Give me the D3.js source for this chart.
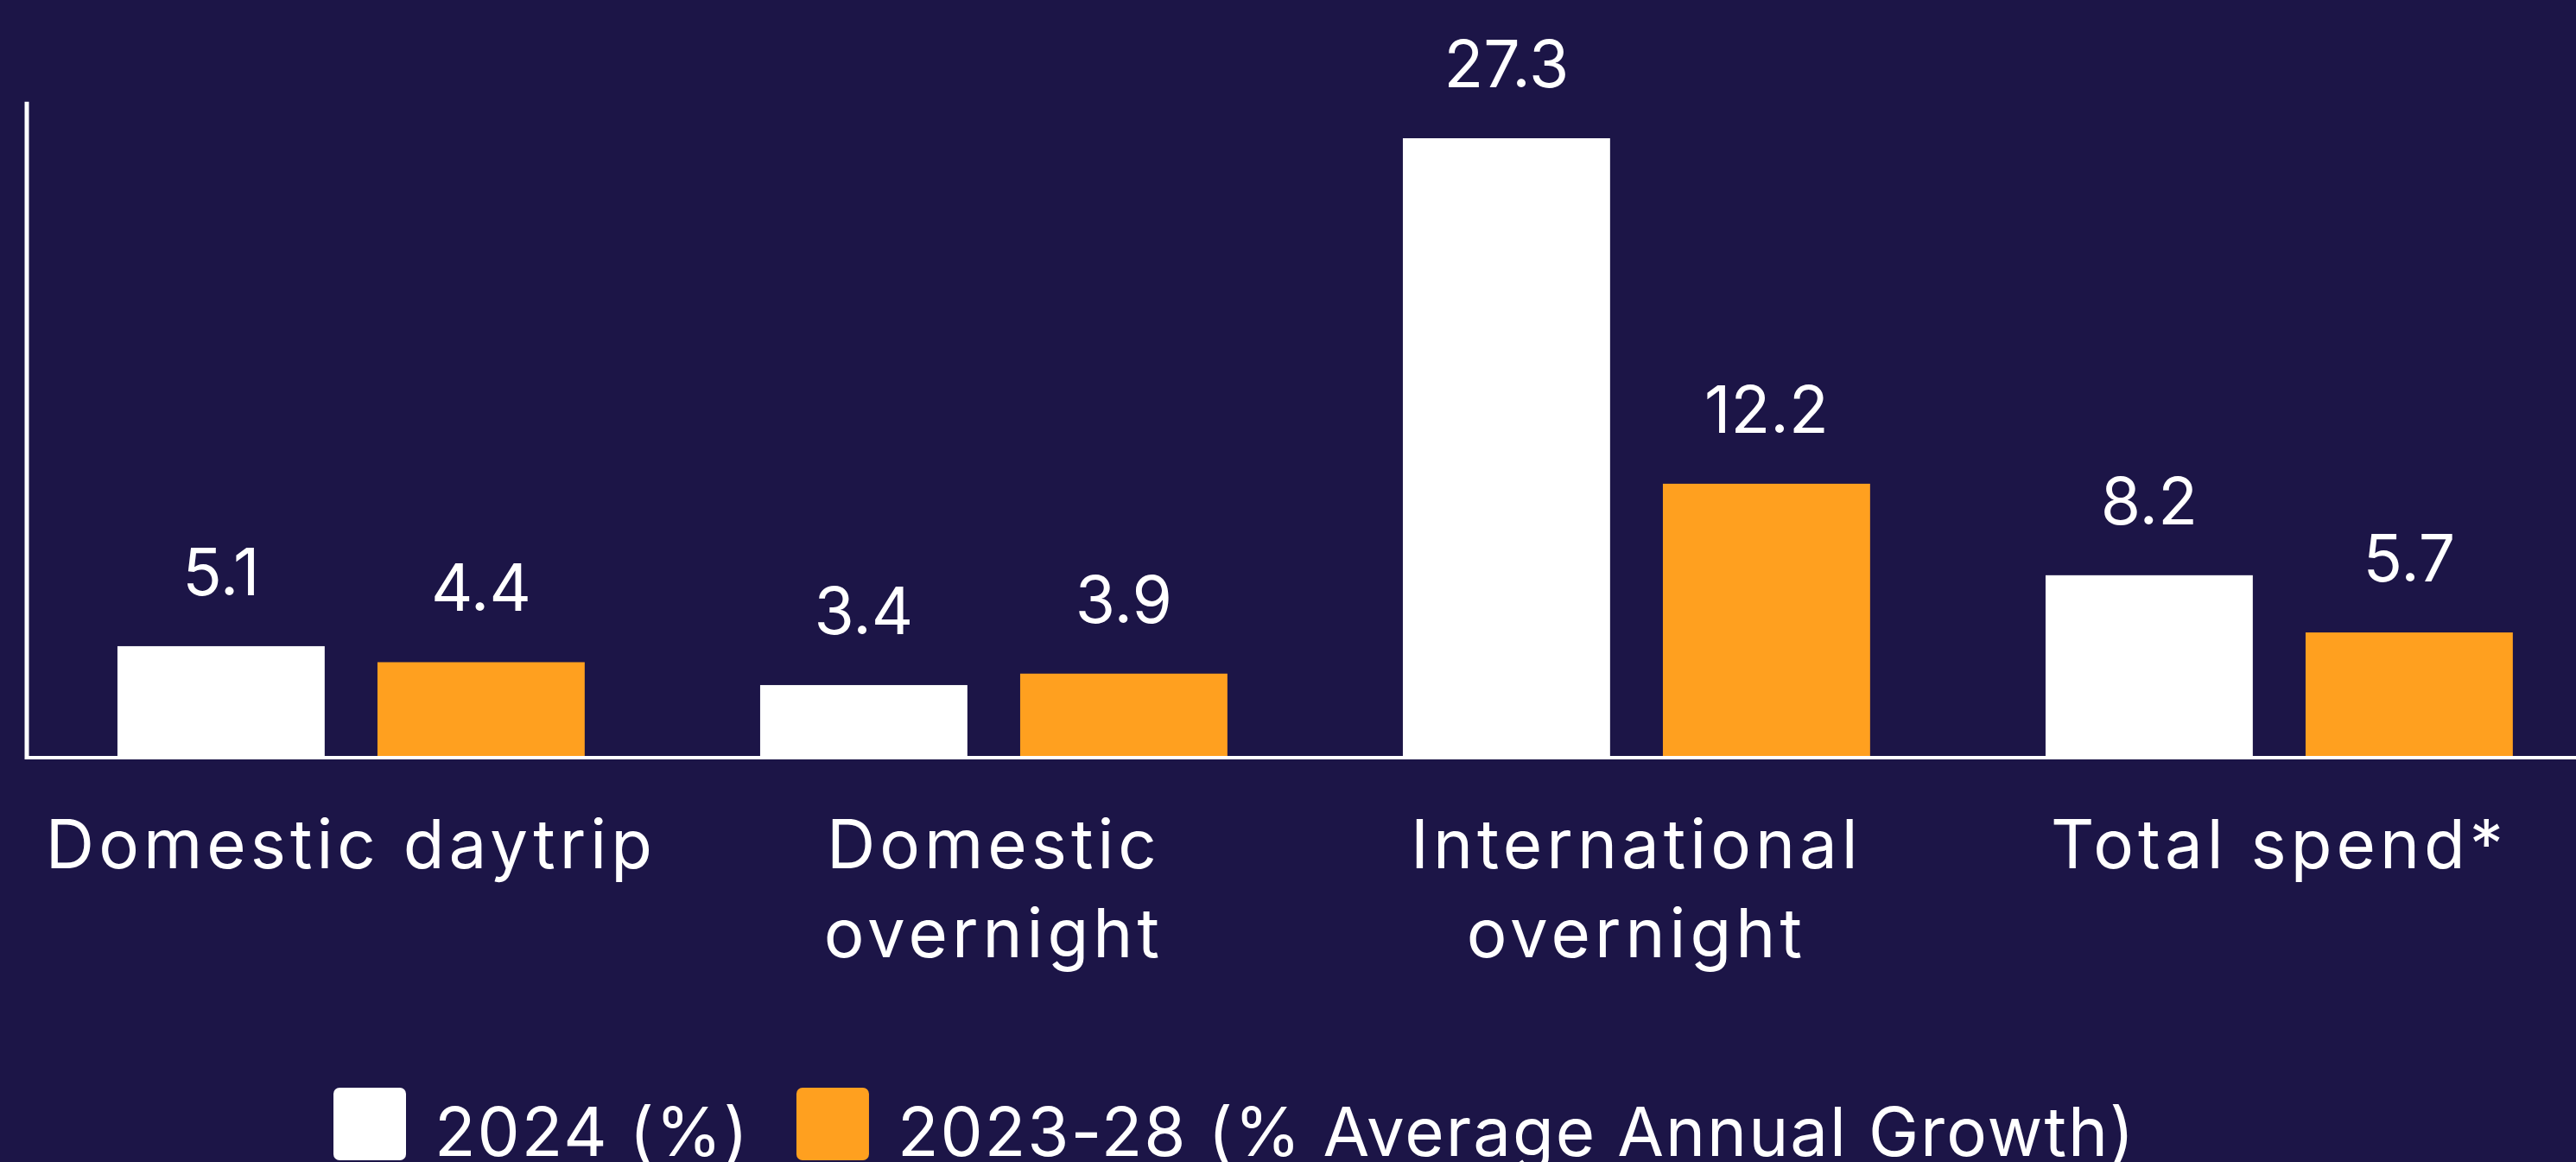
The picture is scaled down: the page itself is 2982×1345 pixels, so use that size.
<!DOCTYPE html>
<html>
<head>
<meta charset="utf-8">
<script src="https://cdn.jsdelivr.net/npm/d3@7"></script>
<style>
    html, body { margin: 0; padding: 0; background: #1c1547; }
    svg { display: block; }
    text { font-family: Inter, "Noto Sans", sans-serif; fill: #ffffff; }
</style>
</head>
<body>
<script>
// Chart data
const categories = ["Domestic daytrip", "Domestic\novernight", "International\novernight", "Total spend*"];
const seriesNames = ["2024 (%)", "2023-28 (% Average Annual Growth)"];
const values2024 = [5.1, 3.4, 27.3, 8.2];
const growth2023to28 = [4.4, 3.9, 12.2, 5.7];
const seriesColors = ["#ffffff", "#ffa01f"];

const width = 2982;
const height = 1345;
const axisY = 877;      //visible x axis line
const fontSize = 78;

const svg = d3.select("body").append("svg")
    .attr("width", width)
    .attr("height", height);

svg.append("rect")
    .attr("width", width)
    .attr("height", height)
    .attr("fill", "#1c1547");

//Scales
const x0 = d3.scaleBand()
    .domain(categories)
    .range([34.4, 3010.4])
    .paddingInner(0.273)
    .paddingOuter(0.1365);

const x1 = d3.scaleBand()
    .domain(seriesNames)
    .range([0, x0.bandwidth()])
    .paddingInner(0.203);

const y = d3.scaleLinear()
    .domain([0, 29])
    .range([883, 115]);

const rows = categories.map((c, i) => ({
    category: c,
    values: [values2024[i], growth2023to28[i]]
}));

//Bars
const group = svg.append("g").selectAll("g")
    .data(rows)
    .join("g")
    .attr("transform", d => `translate(${x0(d.category)},0)`);

const cells = group.selectAll("g")
    .data(d => d.values.map((v, i) => ({series: seriesNames[i], value: v, color: seriesColors[i]})))
    .join("g");

cells.append("rect")
    .attr("x", d => x1(d.series))
    .attr("y", d => y(d.value))
    .attr("width", x1.bandwidth())
    .attr("height", d => axisY - y(d.value))
    .attr("fill", d => d.color);

cells.append("text")
    .attr("x", d => x1(d.series) + x1.bandwidth() / 2)
    .attr("y", d => y(d.value) - 59)
    .attr("text-anchor", "middle")
    .attr("font-size", 75)
    .text(d => d.value.toFixed(1));

//Axis lines
svg.append("line")
    .attr("x1", 31).attr("x2", 31)
    .attr("y1", y(28.9)).attr("y2", axisY + 2)
    .attr("stroke", "#ffffff")
    .attr("stroke-width", 5);

svg.append("line")
    .attr("x1", 31).attr("x2", width)
    .attr("y1", axisY).attr("y2", axisY)
    .attr("stroke", "#ffffff")
    .attr("stroke-width", 4);

//Category labels (multi-line)
const catLabel = svg.append("g").selectAll("text")
    .data(categories)
    .join("text")
    .attr("x", d => x0(d) + x0.bandwidth() / 2)
    .attr("y", 1005)
    .attr("text-anchor", "middle")
    .attr("font-size", fontSize)
    .attr("letter-spacing", 5);

catLabel.selectAll("tspan")
    .data(d => d.split("\n"))
    .join("tspan")
    .attr("x", function () { return this.parentNode.getAttribute("x"); })
    .attr("dy", (d, i) => i === 0 ? 0 : 103)
    .text(d => d);

//Legend
const legend = svg.append("g");
let lx = 386;
seriesNames.forEach((name, i) => {
    legend.append("rect")
        .attr("x", lx)
        .attr("y", 1259)
        .attr("width", 84)
        .attr("height", 84)
        .attr("rx", 7)
        .attr("fill", seriesColors[i]);
    const t = legend.append("text")
        .attr("x", lx + 117)
        .attr("y", 1338)
        .attr("font-size", fontSize)
        .attr("letter-spacing", 2)
        .text(name);
    lx += 117 + t.node().getComputedTextLength() + 54;
});
</script>
</body>
</html>
